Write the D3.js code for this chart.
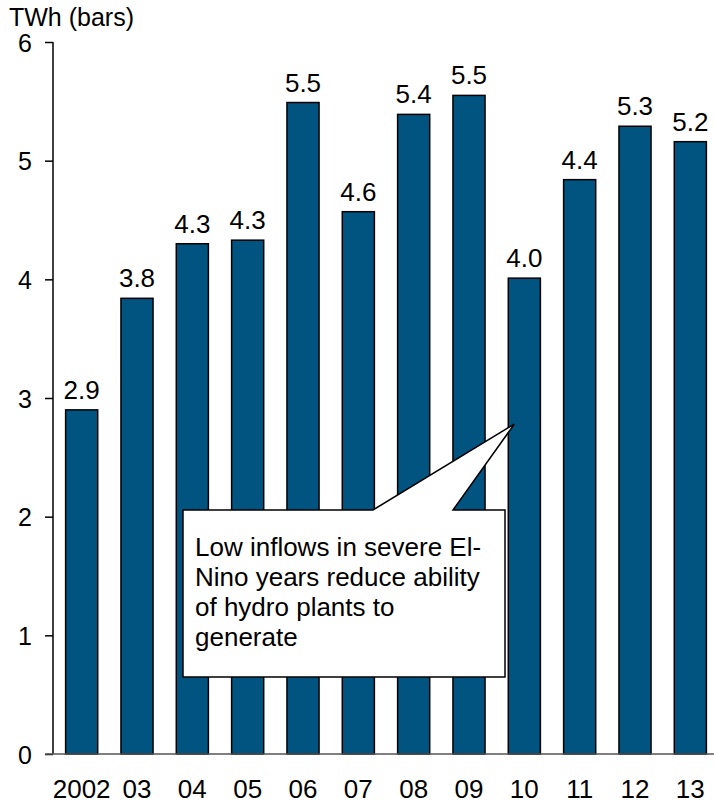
<!DOCTYPE html>
<html>
<head>
<meta charset="utf-8">
<script src="https://cdn.jsdelivr.net/npm/d3@7"></script>
<style>
  body { margin: 0; background: #fff; }
  text { font-family: "Liberation Sans", Arial, sans-serif; fill: #000; }
</style>
</head>
<body>
<svg id="chart" width="714" height="804"></svg>
<script>
// data
var years = ["2002", "03", "04", "05", "06", "07", "08", "09", "10", "11", "12", "13"]
var values = [2.90, 3.84, 4.30, 4.33, 5.49, 4.57, 5.39, 5.55, 4.01, 4.84, 5.29, 5.16]
var labels = ["2.9", "3.8", "4.3", "4.3", "5.5", "4.6", "5.4", "5.5", "4.0", "4.4", "5.3", "5.2"]
var yTicks = [0, 1, 2, 3, 4, 5, 6]
var note = ["Low inflows in severe El-", "Nino years reduce ability", "of hydro plants to", "generate"]

var fs = "26px"
var svg = d3.select("#chart")

var x = d3.scaleBand().domain(years).range([54, 718]).paddingInner(0.42).paddingOuter(0.21)
var y = d3.scaleLinear().domain([0, 6]).range([754, 42])

// Title
svg.append("text").text("TWh (bars)")
  .attr("x", 9).attr("y", 26)
  .style("font-size", "25px")

// Bars
svg.append("g").selectAll("rect").data(values).enter().append("rect")
  .attr("x", (d, i) => x(years[i]))
  .attr("y", d => y(d))
  .attr("width", x.bandwidth())
  .attr("height", d => y(0) - y(d))
  .attr("fill", "#015480")
  .attr("stroke", "#000")
  .attr("stroke-width", 1.5)

// Value labels
svg.append("g").selectAll("text").data(values).enter().append("text")
  .attr("x", (d, i) => x(years[i]) + x.bandwidth() / 2)
  .attr("y", d => y(d) - 11)
  .attr("text-anchor", "middle")
  .style("font-size", fs)
  .text((d, i) => labels[i])

// Y axis
var yAxis = svg.append("g").attr("transform", "translate(53,0)")
  .call(d3.axisLeft(y).tickValues(yTicks).tickFormat(d3.format("d")).tickSize(8).tickPadding(13))
yAxis.select(".domain").attr("stroke", "#000").attr("stroke-width", 1.5).attr("d", "M0," + y(6) + "V" + y(0))
yAxis.selectAll(".tick line").attr("stroke", "#000").attr("stroke-width", 1.5)
yAxis.selectAll(".tick text").style("font-size", "25px").style("font-family", "Liberation Sans, Arial, sans-serif").attr("fill", "#000")
  .attr("dy", "0.36em")

// Baseline
svg.append("line")
  .attr("x1", 45).attr("x2", 714)
  .attr("y1", y(0)).attr("y2", y(0))
  .attr("stroke", "#555").attr("stroke-width", 1.5)

// X labels
svg.append("g").selectAll("text").data(years).enter().append("text")
  .attr("x", d => x(d) + x.bandwidth() / 2)
  .attr("y", 798)
  .attr("text-anchor", "middle")
  .style("font-size", fs)
  .text(d => d)

// Callout
var box = { x0: 183, y0: 510, x1: 505, y1: 677 }
var tipX = x("10") + 6, tipY = y(2.78)
var path = d3.path()
path.moveTo(box.x0, box.y0)
path.lineTo(373, box.y0)
path.lineTo(tipX, tipY)
path.lineTo(453, box.y0)
path.lineTo(box.x1, box.y0)
path.lineTo(box.x1, box.y1)
path.lineTo(box.x0, box.y1)
path.closePath()
svg.append("path").attr("d", path.toString())
  .attr("fill", "#fff").attr("stroke", "#000").attr("stroke-width", 1.5)

svg.append("g").selectAll("text").data(note).enter().append("text")
  .attr("x", 195)
  .attr("y", (d, i) => 556 + i * 30)
  .style("font-size", "26px")
  .text(d => d)
</script>
</body>
</html>
